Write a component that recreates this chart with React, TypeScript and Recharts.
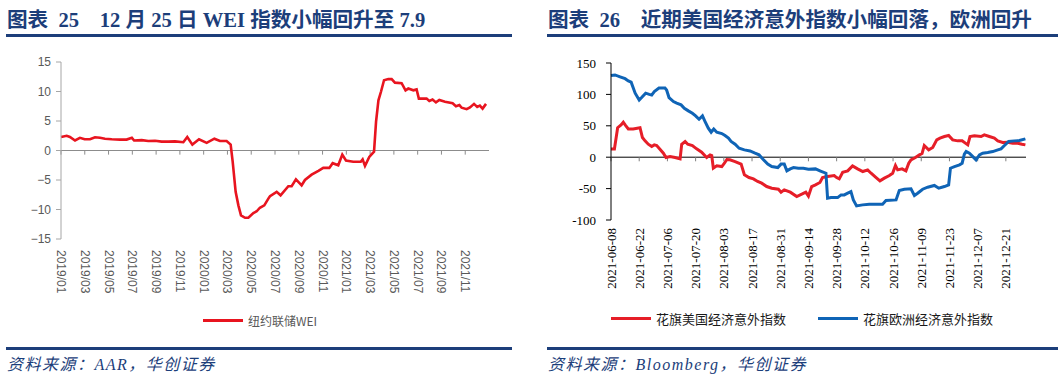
import React from 'react';
import { LineChart, Line, XAxis, YAxis, ReferenceLine } from 'recharts';

// 图表25：纽约联储WEI（x = 自2019/01起的月份）
const weiTickMonths = [0, 2, 4, 6, 8, 10, 12, 14, 16, 18, 20, 22, 24, 26, 28, 30, 32, 34];
const weiTickLabels = [
  '2019/01', '2019/03', '2019/05', '2019/07', '2019/09', '2019/11',
  '2020/01', '2020/03', '2020/05', '2020/07', '2020/09', '2020/11',
  '2021/01', '2021/03', '2021/05', '2021/07', '2021/09', '2021/11',
];
const weiMonths = [
  0, 0.48, 0.75, 1.18, 1.59, 1.99, 2.44, 2.86, 3.28, 3.7, 4.27, 4.96, 5.52, 5.96, 6.15, 6.79,
  7.34, 7.91, 8.47, 9.03, 9.59, 10.29, 10.62, 11.05, 11.61, 12.25, 12.9, 13.37, 13.93, 14.27,
  14.44, 14.69, 14.92, 15.14, 15.48, 15.76, 16.18, 16.46, 16.73, 17.1, 17.44, 17.58, 18.14,
  18.47, 19.12, 19.4, 19.76, 20.24, 20.52, 21.08, 21.65, 22.06, 22.57, 22.85, 23.32, 23.66,
  23.97, 24.58, 25.21, 25.37, 25.57, 25.93, 26.33, 26.5, 26.7, 26.92, 27.17, 27.53, 27.81,
  28.09, 28.65, 28.98, 29.21, 29.64, 29.91, 30.1, 30.75, 30.98, 31.25, 31.54, 31.82, 32.3,
  32.94, 33.22, 33.51, 33.7, 34.12, 34.4, 34.74, 35.01, 35.23, 35.46, 35.75,
];
const weiValues = [
  2.3, 2.5, 2.3, 1.7, 2.15, 1.9, 1.9, 2.25, 2.15, 2.0, 1.9, 1.85, 1.85, 2.15, 1.7, 1.75,
  1.6, 1.65, 1.5, 1.5, 1.55, 1.4, 2.3, 1.0, 1.9, 1.3, 2.0, 1.6, 1.6, 1.0,
  -1.9, -7.0, -9.3, -11.0, -11.4, -11.4, -10.6, -10.3, -9.7, -9.3, -8.15, -7.75, -7.0,
  -7.6, -6.05, -6.05, -4.9, -5.9, -5.0, -4.1, -3.45, -2.95, -2.95, -2.15, -2.5, -0.7,
  -1.7, -1.9, -1.9, -1.5, -2.6, -1.1, -0.2, 4.9, 8.5, 10.0, 11.9, 12.1, 12.1,
  11.5, 11.4, 10.2, 10.5, 10.2, 10.35, 8.8, 8.8, 8.4, 8.65, 8.15, 8.55, 8.25,
  8.0, 7.5, 7.7, 7.25, 7.0, 7.3, 7.9, 7.4, 7.6, 7.1, 7.9,
];

// 图表26：花旗经济意外指数（x = 自2021-06-08起的天数）
const surpriseTickDays = [0, 14, 28, 42, 56, 70, 84, 98, 112, 126, 140, 154, 168, 182, 196];
const surpriseTickLabels = [
  '2021-06-08', '2021-06-22', '2021-07-06', '2021-07-20', '2021-08-03', '2021-08-17',
  '2021-08-31', '2021-09-14', '2021-09-28', '2021-10-12', '2021-10-26', '2021-11-09',
  '2021-11-23', '2021-12-07', '2021-12-21',
];
const usSurprise: [number, number][] = [
  [0, 13], [1.7, 13], [3.3, 47], [5, 51.5], [6.1, 55.7], [7.3, 50.4], [8.6, 45], [11, 45],
  [14.4, 47], [15.6, 31.3], [16.9, 26], [18.5, 20.7], [20.2, 17], [21.5, 19.6], [22.7, 18.6],
  [24.3, 12.7], [26, 6.4], [27.3, -0.5], [29.3, 1], [31.8, -0.5], [34.3, -2.7], [35.1, 20.7],
  [36.8, 25], [38.1, 20.7], [40.4, 18.6], [42.5, 13.3], [45, 8], [47.5, -0.5], [49.2, 3.7],
  [50, 2.7], [50.8, -17.5], [52.5, -13.8], [55, -14.9], [56.3, -9.6], [57.5, -3.7], [59, -4.2],
  [61.6, -6.9], [64.6, -11], [66.2, -28], [68.5, -32.4], [70.7, -34.5], [72.8, -38.7],
  [74.8, -41.4], [77.3, -46.7], [79.8, -49.4], [83.1, -51], [84.4, -55.7], [86, -52],
  [89, -55.7], [92.2, -62.6], [94.7, -58.9], [96.7, -55.7], [98, -62], [99.6, -46.7],
  [101.5, -44], [103.7, -40.3], [105, -32.4], [107.5, -30.8], [110.8, -29.2], [112, -32.4],
  [113.3, -34.5], [115, -23.9], [117.5, -21.8], [119.9, -13.8], [122.4, -18.6], [125, -22.8],
  [127.4, -20.2], [129.1, -25.5], [131.6, -32.4], [133.5, -37.7], [135.7, -33.4],
  [138.2, -29.2], [139.8, -25.5], [141.2, -13.3], [142.3, -20.2], [144.5, -18.6],
  [146.4, -21.8], [147.8, -9.6], [148.9, -4.2], [151.1, -0.5], [153.1, 3.7], [154.4, 5.8],
  [155.5, 18.6], [157.7, 11.7], [159.7, 15.4], [161.7, 27.6], [163.3, 30.3], [165.5, 32.9],
  [167.6, 34.5], [169.6, 27.6], [172.1, 26], [174.3, 26], [177.1, 19.6], [178.2, 32.9],
  [180.4, 34], [183.7, 32.9], [185.3, 35.6], [187.8, 32.9], [190.3, 30.3], [192, 26],
  [194.4, 23.4], [196.9, 23.9], [199.4, 22.3], [201.9, 22.3], [204, 20.7], [205.7, 19.6],
];
const euSurprise: [number, number][] = [
  [0, 130], [2, 131], [4.5, 128], [7, 125], [8.6, 121.5], [10, 119.4], [12, 102], [14, 91],
  [15.2, 95], [17.2, 102], [19, 100], [20.2, 99], [21.5, 104.6], [23.8, 110], [26.8, 110],
  [27.6, 107], [28.8, 95], [31, 88.6], [32.6, 86], [34.8, 83.3], [36.4, 78], [38.4, 73.8],
  [40.4, 70], [42, 65.8], [43.7, 60.5], [45.4, 65.8], [46.7, 56.8], [48.3, 46.2], [49.7, 39.8],
  [51, 45], [52.5, 39.8], [55, 37.7], [56.6, 34.5], [58.3, 30.3], [59.6, 25], [61.6, 20.7],
  [63.6, 14.3], [66.2, 11.7], [69, 10], [71.5, 6.4], [73.5, 3.7], [75.7, -4.2], [77.8, -11],
  [79.8, -14.9], [82.8, -16.5], [84.4, -11], [86, -11], [87.3, -21.8], [89, -18.6],
  [90.6, -16.5], [93, -17.5], [95.5, -17.5], [98, -19.1], [101.5, -18.6], [104, -22],
  [106.7, -25.5], [107.5, -65.3], [109.2, -64.3], [112.5, -64.3], [114.2, -60], [115.8, -60],
  [117.5, -57.3], [119.1, -54.7], [120.3, -68], [121.9, -77.5], [124.9, -75.9], [128.2, -74.8],
  [134.8, -74.8], [136.5, -69], [141.5, -68], [143.1, -53], [145.6, -51], [148.9, -50.4],
  [150.6, -61], [152.2, -57.3], [154.7, -51], [157.2, -47.8], [160.5, -45], [162.7, -49.4],
  [165.5, -46.7], [167.6, -44], [168.5, -17.5], [170.5, -14.9], [173, -12.2], [174.3, -9.6],
  [175.4, 4.8], [176.3, 9], [177.9, 6.4], [179.6, 1], [181.2, -4.2], [182.9, 3.7], [184.5, 6.4],
  [187, 7.4], [189.5, 9], [192, 11.7], [193.6, 13.3], [195.3, 18.6], [197.4, 25], [200.2, 26],
  [202.7, 26.5], [205.7, 29.2],
];

const NAVY = '#1c3e7a';
const WEI_RED = '#e8141f';
const US_RED = '#e61e28';
const EU_BLUE = '#0f64b6';

const weiData = weiMonths.map((m, i) => ({ m, v: weiValues[i] }));
const usData = usSurprise.map(([d, v]) => ({ d, v }));
const euData = euSurprise.map(([d, v]) => ({ d, v }));

const titleStyle: React.CSSProperties = {
  position: 'absolute',
  top: 9,
  fontFamily: '"Liberation Serif", "Noto Sans CJK SC", serif',
  fontWeight: 700,
  fontSize: 20.6,
  lineHeight: '22px',
  color: NAVY,
  whiteSpace: 'pre',
};

const sourceStyle: React.CSSProperties = {
  position: 'absolute',
  top: 355,
  fontFamily: '"Liberation Serif", "Noto Sans CJK SC", serif',
  fontStyle: 'italic',
  fontSize: 16,
  letterSpacing: 1.5,
  lineHeight: '20px',
  color: NAVY,
  whiteSpace: 'pre',
};

const rule = (left: number, top: number, width: number): React.CSSProperties => ({
  position: 'absolute',
  left,
  top,
  width,
  height: 3,
  background: NAVY,
});

const WeiTick = (props: any) => {
  const { x, y, payload } = props;
  const label = weiTickLabels[weiTickMonths.indexOf(payload.value)];
  return (
    <text
      x={x}
      y={y + 3}
      transform={`rotate(90, ${x}, ${y + 3})`}
      textAnchor="start"
      dominantBaseline="central"
      fontFamily='"Liberation Sans", Arial, sans-serif'
      fontSize={12}
      fill="#595959"
    >
      {label}
    </text>
  );
};

const SurpriseTick = (props: any) => {
  const { x, y, payload } = props;
  const label = surpriseTickLabels[surpriseTickDays.indexOf(payload.value)];
  return (
    <text
      x={x}
      y={y}
      transform={`rotate(-90, ${x}, ${y})`}
      textAnchor="end"
      dominantBaseline="central"
      fontFamily='"Liberation Serif", "Times New Roman", serif'
      fontSize={13}
      fill="#000"
    >
      {label}
    </text>
  );
};

const LegendItem = ({ color, text, font, size, textColor }: any) => (
  <div style={{ display: 'flex', alignItems: 'center' }}>
    <div style={{ width: 40, height: 3, background: color, marginRight: 5 }} />
    <span style={{ fontFamily: font, fontSize: size, color: textColor, whiteSpace: 'pre' }}>{text}</span>
  </div>
);

export default function App() {
  return (
    <div
      style={{
        position: 'absolute',
        left: 0,
        top: 0,
        width: 1064,
        height: 384,
        background: '#fff',
        overflow: 'hidden',
      }}
    >
      {/* 左图 */}
      <div style={{ ...titleStyle, left: 7 }}>{'图表  25    12 月 25 日 WEI 指数小幅回升至 7.9'}</div>
      <div style={rule(6, 34, 506)} />
      <div style={{ position: 'absolute', left: 0, top: 0 }}>
        <LineChart width={520} height={300} data={weiData} margin={{ top: 62, right: 31, left: 0, bottom: 1 }}>
          <XAxis
            dataKey="m"
            type="number"
            domain={[0, 36]}
            ticks={weiTickMonths}
            axisLine={false}
            tickLine={false}
            height={60}
            tick={<WeiTick />}
            interval={0}
          />
          <YAxis
            type="number"
            domain={[-15, 15]}
            ticks={[-15, -10, -5, 0, 5, 10, 15]}
            width={61}
            stroke="#a6a6a6"
            tickSize={5}
            tickMargin={5}
            tick={{ fill: '#595959', fontSize: 12, fontFamily: '"Liberation Sans", Arial, sans-serif' }}
            tickFormatter={(v: number) => (v < 0 ? `\u2212${Math.abs(v)}` : `${v}`)}
          />
          <ReferenceLine y={0} stroke="#8c8c8c" strokeWidth={1} />
          {weiTickMonths.map((t) => (
            <ReferenceLine
              key={t}
              segment={[{ x: t, y: 0 }, { x: t, y: -0.7 }]}
              stroke="#8c8c8c"
              strokeWidth={1}
            />
          ))}
          <Line
            type="linear"
            dataKey="v"
            stroke={WEI_RED}
            strokeWidth={2.6}
            dot={false}
            isAnimationActive={false}
          />
        </LineChart>
      </div>
      <div style={{ position: 'absolute', left: 203, top: 312 }}>
        <LegendItem
          color={WEI_RED}
          text="纽约联储WEI"
          font='"Noto Sans CJK SC", "Liberation Sans", sans-serif'
          size={12}
          textColor="#595959"
        />
      </div>
      <div style={rule(6, 347, 506)} />
      <div style={{ ...sourceStyle, left: 7 }}>{'资料来源：AAR，华创证券'}</div>

      {/* 右图 */}
      <div style={{ ...titleStyle, left: 548 }}>{'图表  26    近期美国经济意外指数小幅回落，欧洲回升'}</div>
      <div style={rule(547, 34, 511)} />
      <div style={{ position: 'absolute', left: 540, top: 0 }}>
        <LineChart width={524} height={300} margin={{ top: 63, right: 38, left: 0, bottom: 5 }}>
          <XAxis
            dataKey="d"
            type="number"
            domain={[0, 206]}
            ticks={surpriseTickDays}
            axisLine={false}
            tickLine={false}
            height={75}
            tick={<SurpriseTick />}
            interval={0}
            allowDuplicatedCategory={false}
          />
          <YAxis
            type="number"
            domain={[-100, 150]}
            ticks={[-100, -50, 0, 50, 100, 150]}
            width={71}
            stroke="#000"
            tickSize={5}
            tickMargin={10}
            tick={{ fill: '#000', fontSize: 13, fontFamily: '"Liberation Serif", "Times New Roman", serif' }}
          />
          <ReferenceLine y={0} stroke="#000" strokeWidth={1} />
          {surpriseTickDays.map((t) => (
            <ReferenceLine
              key={t}
              segment={[{ x: t, y: 0 }, { x: t, y: -6.5 }]}
              stroke="#7f7f7f"
              strokeWidth={1}
            />
          ))}
          <Line
            data={usData}
            type="linear"
            dataKey="v"
            stroke={US_RED}
            strokeWidth={3}
            dot={false}
            isAnimationActive={false}
          />
          <Line
            data={euData}
            type="linear"
            dataKey="v"
            stroke={EU_BLUE}
            strokeWidth={3}
            dot={false}
            isAnimationActive={false}
          />
        </LineChart>
      </div>
      <div style={{ position: 'absolute', left: 611, top: 309 }}>
        <LegendItem
          color={US_RED}
          text="花旗美国经济意外指数"
          font='"Noto Sans CJK SC", sans-serif'
          size={13}
          textColor="#1a1a1a"
        />
      </div>
      <div style={{ position: 'absolute', left: 818, top: 309 }}>
        <LegendItem
          color={EU_BLUE}
          text="花旗欧洲经济意外指数"
          font='"Noto Sans CJK SC", sans-serif'
          size={13}
          textColor="#1a1a1a"
        />
      </div>
      <div style={rule(547, 347, 511)} />
      <div style={{ ...sourceStyle, left: 548 }}>{'资料来源：Bloomberg，华创证券'}</div>
    </div>
  );
}
